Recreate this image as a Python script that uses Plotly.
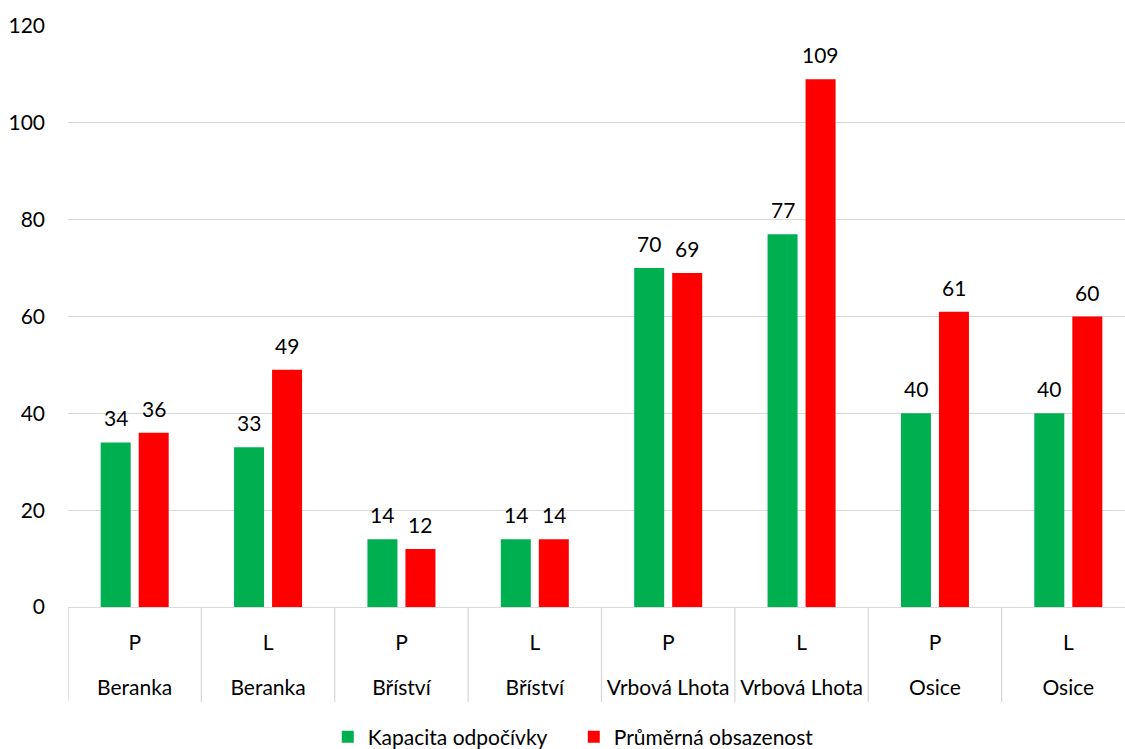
import plotly.graph_objects as go

# ---- data ----
sites = ["Beranka", "Beranka", "Bříství", "Bříství", "Vrbová Lhota", "Vrbová Lhota", "Osice", "Osice"]
sides = ["P", "L", "P", "L", "P", "L", "P", "L"]
kapacita = [34, 33, 14, 14, 70, 77, 40, 40]
obsazenost = [36, 49, 12, 14, 69, 109, 61, 60]
series_names = ["Kapacita odpočívky", "Průměrná obsazenost"]
y_ticks = [0, 20, 40, 60, 80, 100, 120]

GREEN = "#00B050"
RED = "#FF0000"
GRID = "#D9D9D9"
FONT = "Lato"
FS = 21

idx = list(range(len(sites)))
bar_w = 0.225
off_g = -0.255
off_r = 0.03
xrange = [-0.5, len(sites) - 0.5 - 0.075]

fig = go.Figure()
fig.add_trace(go.Bar(
    x=idx, y=kapacita, name=series_names[0], marker=dict(color=GREEN, line=dict(width=0)),
    width=bar_w, offset=off_g, xaxis="x", yaxis="y", hoverinfo="y"))
fig.add_trace(go.Bar(
    x=idx, y=obsazenost, name=series_names[1], marker=dict(color=RED, line=dict(width=0)),
    width=bar_w, offset=off_r, xaxis="x2", yaxis="y", hoverinfo="y"))

annotations = []
for i, (g, r) in enumerate(zip(kapacita, obsazenost)):
    for val, off in ((g, off_g), (r, off_r)):
        annotations.append(dict(
            x=i + off + bar_w / 2, y=val, xref="x", yref="y", text=str(val),
            showarrow=False, yanchor="bottom", xanchor="center", yshift=10,
            font=dict(family=FONT, size=FS, color="black")))

shapes = []
for i in range(len(sites) + 1):
    shapes.append(dict(type="line", xref="x", yref="paper", x0=i - 0.5, x1=i - 0.5,
                       y0=0, y1=-95 / 581, line=dict(color=GRID, width=1.3)))

fig.update_layout(
    width=1125, height=749,
    margin=dict(l=68, r=0, t=26, b=142, autoexpand=False),
    paper_bgcolor="white", plot_bgcolor="white",
    font=dict(family=FONT, size=FS, color="black"),
    barmode="overlay",
    showlegend=True,
    legend=dict(orientation="h", x=0.4785, xanchor="center", y=-130 / 581, yanchor="middle",
                font=dict(family=FONT, size=FS, color="black"), entrywidth=201,
                bgcolor="rgba(0,0,0,0)"),
    xaxis=dict(range=xrange, tickmode="array", tickvals=idx, ticktext=sides,
               showgrid=False, zeroline=False, showline=True, linecolor=GRID, linewidth=1.3,
               ticks="", ticklabelstandoff=17, tickfont=dict(family=FONT, size=FS, color="black")),
    xaxis2=dict(range=xrange, overlaying="x", anchor="y", side="bottom",
                tickmode="array", tickvals=idx, ticktext=sites,
                showgrid=False, zeroline=False, showline=False,
                ticks="", ticklabelstandoff=66, tickfont=dict(family=FONT, size=FS, color="black")),
    yaxis=dict(range=[0, 120], tickmode="array", tickvals=y_ticks,
               showgrid=True, gridcolor=GRID, gridwidth=1.3, zeroline=False, showline=False,
               ticks="", ticklabelstandoff=22, tickfont=dict(family=FONT, size=FS, color="black")),
    annotations=annotations,
    shapes=shapes,
)

fig.write_html("out.html")
